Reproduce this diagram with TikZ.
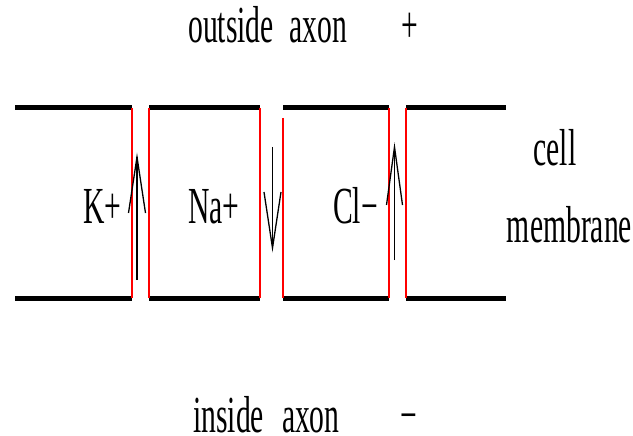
\documentclass[tikz,border=0pt]{standalone}
\usepackage{fontspec}
\newfontfamily\figfont[FakeStretch=0.57]{Liberation Serif}
\begin{document}
\begin{tikzpicture}[x=1pt,y=-1pt,
  membrane/.style={line width=5pt,black},
  channel/.style={line width=1.6pt,red},
  flow/.style={line width=1.3pt,black},
  barb/.style={line width=1.3pt,black,line join=miter},
  lbl/.style={inner sep=0pt,anchor=base west,font=\figfont\fontsize{52}{54}\selectfont}]
\useasboundingbox (0,0) rectangle (633,436);
% membrane segments
\coordinate (t1a) at (15,108);  \coordinate (t1b) at (132,108);
\coordinate (t2a) at (149,108); \coordinate (t2b) at (260,108);
\coordinate (t3a) at (283,108); \coordinate (t3b) at (389,108);
\coordinate (t4a) at (406,108); \coordinate (t4b) at (506,108);
\coordinate (b1a) at (15,298);  \coordinate (b1b) at (132,298);
\coordinate (b2a) at (149,298); \coordinate (b2b) at (260,298);
\coordinate (b3a) at (283,298); \coordinate (b3b) at (389,298);
\coordinate (b4a) at (406,298); \coordinate (b4b) at (506,298);
\draw[membrane] (t1a) -- (t1b) (t2a) -- (t2b) (t3a) -- (t3b) (t4a) -- (t4b);
\draw[membrane] (b1a) -- (b1b) (b2a) -- (b2b) (b3a) -- (b3b) (b4a) -- (b4b);
% channel walls
\coordinate (r3top) at (283,118);
\draw[channel] (t1b) -- (b1b);
\draw[channel] (t2a) -- (b2a);
\draw[channel] (t2b) -- (b2b);
\draw[channel] (r3top) -- (b3a);
\draw[channel] (t3b) -- (b3b);
\draw[channel] (t4a) -- (b4a);
% ion flow arrows
\coordinate (k0) at (137,280);   \coordinate (k1) at (137,157);
\coordinate (na0) at (272.5,147); \coordinate (na1) at (272.5,248);
\coordinate (cl0) at (394.5,260); \coordinate (cl1) at (394.5,147);
\draw[flow] (k0) -- (k1);
\draw[flow] (na0) -- (na1);
\draw[flow] (cl0) -- (cl1);
\draw[barb] ([xshift=-8.5pt,yshift=-56pt]k1) -- (k1) -- ([xshift=8.5pt,yshift=-56pt]k1);
\draw[barb] ([xshift=-8.5pt,yshift=56pt]na1) -- (na1) -- ([xshift=8.5pt,yshift=56pt]na1);
\draw[barb] ([xshift=-8pt,yshift=-58pt]cl1) -- (cl1) -- ([xshift=8pt,yshift=-58pt]cl1);
% labels
\node[lbl] (out) at (188,43) {outside\hspace{16pt}axon};
\node[lbl] (plus) at (401,43) {+};
\node[lbl] (in) at (193,432) {inside\hspace{18pt}axon};
\node[lbl] (minus) at (400,432) {−};
\node[lbl] (k) at (83,223) {K+};
\node[lbl] (na) at (188,223) {Na+};
\node[lbl] (cl) at (333,223) {Cl−};
\node[lbl,anchor=base] (cell) at (555,165) {cell};
\node[lbl,anchor=base] (mem) at (569.5,242) {membrane};
\end{tikzpicture}
\end{document}
